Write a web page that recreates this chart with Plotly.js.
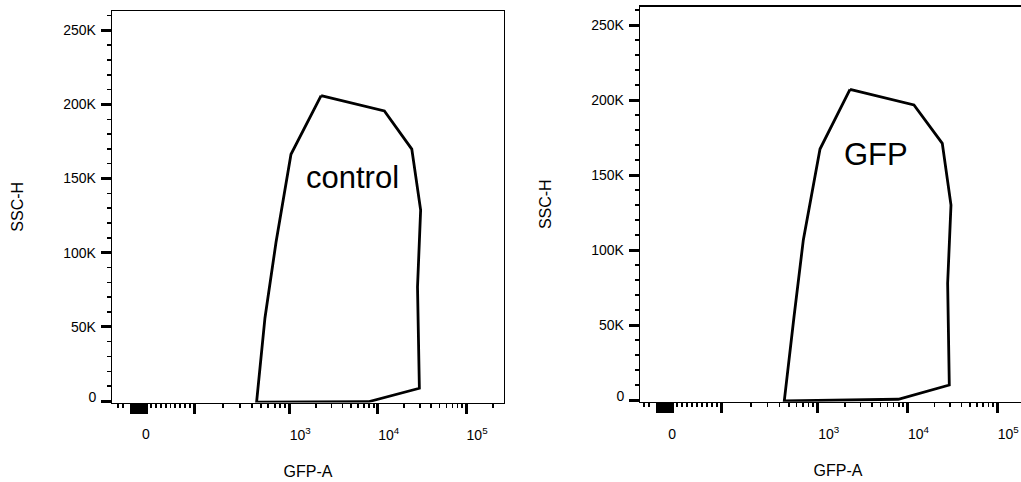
<!DOCTYPE html>
<html>
<head>
<meta charset="utf-8">
<script src="https://cdn.plot.ly/plotly-3.0.1.min.js"></script>
<style>
html,body{margin:0;padding:0;overflow:hidden;background:#ffffff;}
#chart{width:1040px;height:482px;}
</style>
</head>
<body>
<div id="chart"></div>
<script>
// ---------- data (GFP-A raw values, SSC-H values) ----------
const gateNames = ['control', 'GFP'];

const controlGateX = [2290, 11900, 24300, 30600, 28200, 29600, 7830, 450, 552, 723, 1045, 2290];
const controlGateY = [205900, 195600, 169900, 128800, 76900, 8600, -500, -700, 56000, 107000, 166400, 205900];

const gfpGateX = [2290, 11800, 24400, 30500, 28000, 29200, 7900, 448, 566, 708, 1061, 2290];
const gfpGateY = [207100, 196700, 171100, 130000, 77800, 10000, 500, -600, 55500, 106700, 167300, 207100];

const labelPosX = [5150, 4430];
const labelPosY = [151000, 163500];

const yTickVals = [50000, 100000, 150000, 200000, 250000];
const yTickText = ['50K', '100K', '150K', '200K', '250K'];
const yZeroVals = [0];
const yZeroText = ['0'];
const yMinorVals = [10000, 20000, 30000, 40000, 60000, 70000, 80000, 90000,
  110000, 120000, 130000, 140000, 160000, 170000, 180000, 190000,
  210000, 220000, 230000, 240000, 260000];

const xDecadeVals = [1000, 10000, 100000];
const xDecadeText = ['10<sup>3</sup>', '10<sup>4</sup>', '10<sup>5</sup>'];
const xZeroVals = [0];
const xZeroText = ['0'];
const xUnlabeledMajorVals = [-100, -90, -80, -70, -60, -50, -40, -30, -20, -10, 100];
const xMinorVals = [-300, -200, 10, 20, 30, 40, 50, 60, 70, 80, 90,
  200, 300, 400, 500, 600, 700, 800, 900,
  2000, 3000, 4000, 5000, 6000, 7000, 8000, 9000,
  20000, 30000, 40000, 50000, 60000, 70000, 80000, 90000, 200000];

// ---------- biexponential-like display transform (display units = decades) ----------
const D_ZERO = 1.379, D_100 = 1.933, D_NEG100 = 1.217, K_NEG = 0.316;
function biex(v) {
  if (v >= 1000) return Math.log10(v);
  if (v >= 100) return D_100 + (3 - D_100) * Math.log10(v / 100);
  if (v >= 0) return D_ZERO + (D_100 - D_ZERO) * v / 100;
  if (v >= -100) return D_ZERO + (D_ZERO - D_NEG100) * v / 100;
  return D_NEG100 - K_NEG * Math.log10(-v / 100);
}

const FONT = 'Liberation Sans, Arial, Helvetica, sans-serif';
const TICKFONT = {family: FONT, size: 14, color: '#000'};
const COMMON = {type: 'linear', showgrid: false, zeroline: false, automargin: false, fixedrange: true,
                ticks: 'outside', ticklen: 10, tickwidth: 3, tickcolor: '#000', tickfont: TICKFONT};

function xAxisMain(domain, range, anchor) {
  return Object.assign({}, COMMON, {
    domain: domain, range: range, anchor: anchor, side: 'bottom',
    tickmode: 'array', tickvals: xDecadeVals.map(biex), ticktext: xDecadeText,
    ticklabelshift: 11, ticklabelstandoff: 9,
    minor: {tickmode: 'array', tickvals: xMinorVals.map(biex), ticks: 'outside',
            ticklen: 4, tickwidth: 1.8, tickcolor: '#000', showgrid: false},
    showline: true, linecolor: '#000', linewidth: 1.3, mirror: true,
    title: {text: 'GFP-A', font: {family: FONT, size: 16, color: '#000'}, standoff: 24}
  });
}
function xAxisZero(over, range, anchor) {
  return Object.assign({}, COMMON, {
    overlaying: over, range: range, anchor: anchor, side: 'bottom',
    tickmode: 'array', tickvals: xZeroVals.map(biex), ticktext: xZeroText,
    ticklabelstandoff: 9, showline: false
  });
}
function xAxisUnlabeled(over, range, anchor) {
  return Object.assign({}, COMMON, {
    overlaying: over, range: range, anchor: anchor, side: 'bottom',
    tickmode: 'array', tickvals: xUnlabeledMajorVals.map(biex), showticklabels: false,
    showline: false
  });
}
function yAxisMain(domain, range, anchor) {
  return Object.assign({}, COMMON, {
    domain: domain, range: range, anchor: anchor, side: 'left',
    tickmode: 'array', tickvals: yTickVals, ticktext: yTickText,
    ticklabelstandoff: 2,
    minor: {tickmode: 'array', tickvals: yMinorVals, ticks: 'outside',
            ticklen: 4, tickwidth: 1.5, tickcolor: '#000', showgrid: false},
    showline: true, linecolor: '#000', linewidth: 1.3, mirror: true,
    title: {text: 'SSC-H', font: {family: FONT, size: 16, color: '#000'}, standoff: 35}
  });
}
function yAxisZero(over, range, anchor) {
  return Object.assign({}, COMMON, {
    overlaying: over, range: range, anchor: anchor, side: 'left',
    tickmode: 'array', tickvals: yZeroVals, ticktext: yZeroText,
    ticklabelstandoff: 2, ticklabelshift: -4, showline: false
  });
}

const rangeXL = [0.9943, 5.4287], rangeXR = [1.0212, 5.4310];
const rangeYL = [-1000, 263000], rangeYR = [-1130, 262200];

// empty helper traces so that the overlaid tick axes are drawn
function helper(xa, ya) {
  return {x: [], y: [], xaxis: xa, yaxis: ya, type: 'scatter', mode: 'lines',
          hoverinfo: 'skip', showlegend: false};
}

const traces = [
  {x: controlGateX.map(biex), y: controlGateY, xaxis: 'x', yaxis: 'y', type: 'scatter',
   mode: 'lines', line: {color: '#000', width: 2.8}, name: gateNames[0], hoverinfo: 'skip'},
  {x: gfpGateX.map(biex), y: gfpGateY, xaxis: 'x2', yaxis: 'y2', type: 'scatter',
   mode: 'lines', line: {color: '#000', width: 2.8}, name: gateNames[1], hoverinfo: 'skip'},
  helper('x3', 'y'), helper('x4', 'y2'), helper('x5', 'y'), helper('x6', 'y2'),
  helper('x', 'y3'), helper('x2', 'y4')
];

const layout = {
  width: 1040, height: 482,
  margin: {l: 0, r: 0, t: 0, b: 0},
  paper_bgcolor: '#fff', plot_bgcolor: '#fff',
  showlegend: false,
  font: {family: FONT, color: '#000'},
  xaxis: xAxisMain([112/1040, 504/1040], rangeXL, 'y'),
  yaxis: yAxisMain([1 - 402.5/482, 1 - 11/482], rangeYL, 'x'),
  xaxis2: xAxisMain([640/1040, 1036/1040], rangeXR, 'y2'),
  yaxis2: yAxisMain([1 - 401.7/482, 1 - 6.7/482], rangeYR, 'x2'),
  xaxis3: xAxisZero('x', rangeXL, 'y'),
  xaxis4: xAxisZero('x2', rangeXR, 'y2'),
  xaxis5: xAxisUnlabeled('x', rangeXL, 'y'),
  xaxis6: xAxisUnlabeled('x2', rangeXR, 'y2'),
  yaxis3: yAxisZero('y', rangeYL, 'x'),
  yaxis4: yAxisZero('y2', rangeYR, 'x2'),
  annotations: [
    {xref: 'x', yref: 'y', x: biex(labelPosX[0]), y: labelPosY[0], text: gateNames[0],
     showarrow: false, xanchor: 'center', yanchor: 'middle',
     font: {family: FONT, size: 31, color: '#000'}},
    {xref: 'x2', yref: 'y2', x: biex(labelPosX[1]), y: labelPosY[1], text: gateNames[1],
     showarrow: false, xanchor: 'center', yanchor: 'middle',
     font: {family: FONT, size: 31, color: '#000'}}
  ]
};

Plotly.newPlot('chart', traces, layout, {displayModeBar: false, staticPlot: true});
</script>
</body>
</html>
